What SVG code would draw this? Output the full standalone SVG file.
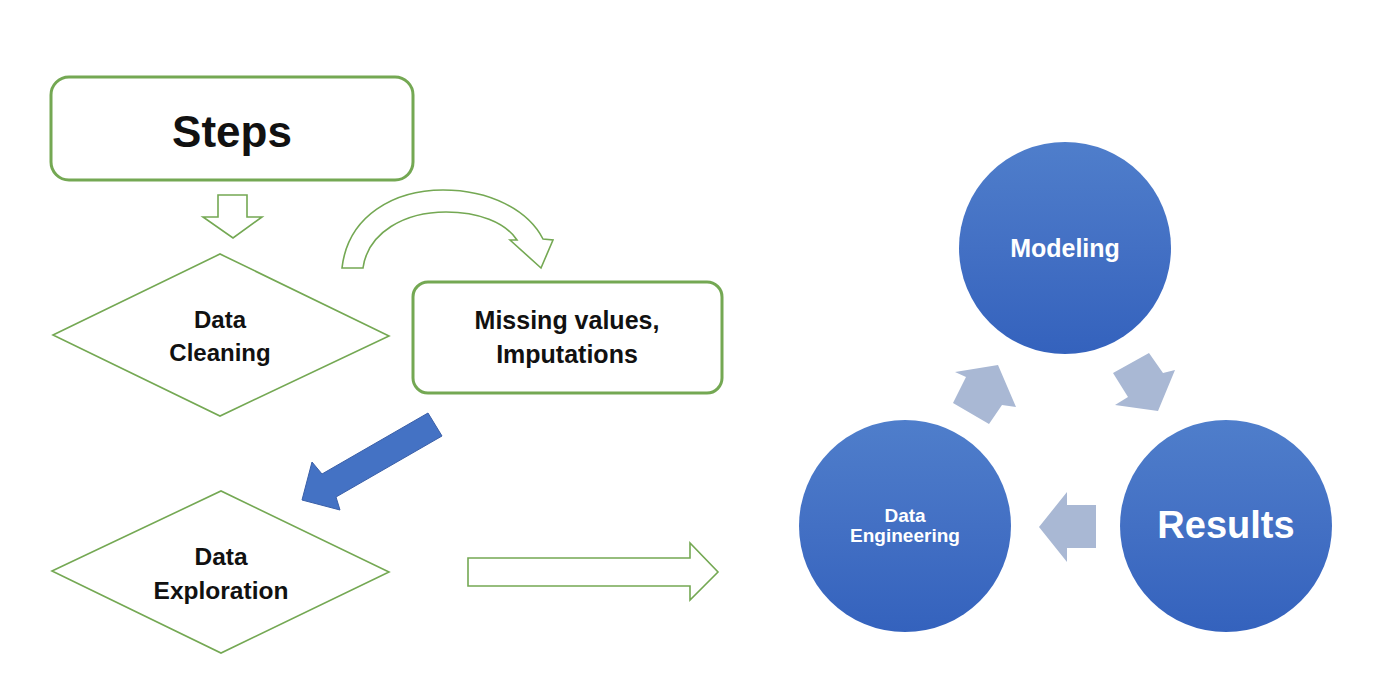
<svg xmlns="http://www.w3.org/2000/svg" width="1400" height="696" viewBox="0 0 1400 696">
<defs>
<linearGradient id="blue" x1="0" y1="0" x2="0" y2="1">
<stop offset="0" stop-color="#4f7ecb"/>
<stop offset="0.5" stop-color="#4370c4"/>
<stop offset="1" stop-color="#3462bd"/>
</linearGradient>
<style>
.box{fill:#fff;stroke:#74a853;stroke-width:3}
.thin{fill:#fff;stroke:#74a853;stroke-width:1.6}
.t{font-family:"Liberation Sans",Arial,sans-serif;font-weight:bold;fill:#111;text-anchor:middle}
.w{font-family:"Liberation Sans",Arial,sans-serif;font-weight:bold;fill:#fff;text-anchor:middle}
.circ{fill:url(#blue)}
.small{fill:#a9b8d4}
</style>
</defs>
<rect width="1400" height="696" fill="#fff"/>
<g id="steps">
<rect class="box" x="51" y="77" width="362" height="103" rx="18"/>
<text class="t" x="232" y="147" font-size="44">Steps</text>
</g>
<g id="data-cleaning">
<polygon class="thin" points="53,335 220,254 389,336 220,416"/>
<text class="t" x="220" y="328" font-size="24">Data</text>
<text class="t" x="220" y="361" font-size="24">Cleaning</text>
</g>
<g id="missing-values">
<rect class="box" x="413" y="282" width="309" height="111" rx="15"/>
<text class="t" x="567" y="329" font-size="25">Missing values,</text>
<text class="t" x="567" y="363" font-size="25">Imputations</text>
</g>
<g id="data-exploration">
<polygon class="thin" points="52,571 221,491 389,572 221,653"/>
<text class="t" x="221" y="565" font-size="24.5">Data</text>
<text class="t" x="221" y="599" font-size="24.5">Exploration</text>
</g>
<g id="modeling">
<circle class="circ" cx="1065" cy="248" r="106"/>
<text class="w" x="1065" y="257" font-size="25">Modeling</text>
</g>
<g id="data-engineering">
<circle class="circ" cx="905" cy="526" r="106"/>
<text class="w" x="905" y="522" font-size="19">Data</text>
<text class="w" x="905" y="542" font-size="19">Engineering</text>
</g>
<g id="results">
<circle class="circ" cx="1226" cy="526" r="106"/>
<text class="w" x="1226" y="538" font-size="38">Results</text>
</g>
<g id="connectors">
<polygon class="thin" points="218,195 247,195 247,217 262,217 233,238 203,217 218,217"/>
<path class="thin" d="M342,268 C348,215 395,190 443,190 C490,190 528,210 543,239 L553,240 L541,268 L510,240 L517,240 C505,222 478,212 446,212 C405,212 368,232 363,268 Z"/>
<polygon points="428,413 442,436 336,497 340,510 302,500 312,462 322,474" fill="#4472c4" stroke="#3a5fa8" stroke-width="1"/>
<polygon class="thin" points="468,558 690,558 690,543 718,572 690,600 690,586 468,586"/>
<polygon class="small" points="955,372 966,377 953,403 989,424 1002,405 1016,407 998,365"/>
<polygon class="small" points="1113,373 1149,353 1163,373 1175,370 1158,411 1115,405 1128,397"/>
<polygon class="small" points="1039,527 1067,492 1067,505 1096,505 1096,548 1067,548 1067,562"/>
</g>
</svg>
